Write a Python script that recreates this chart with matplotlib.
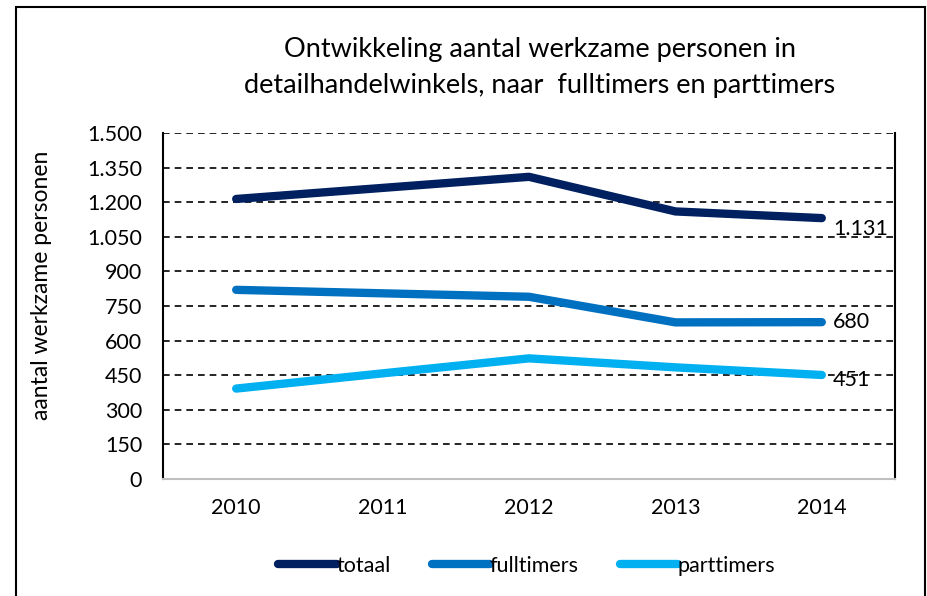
import matplotlib
matplotlib.use("Agg")
import matplotlib.pyplot as plt
from matplotlib.patches import Rectangle

plt.rcParams['font.family'] = ['Lato', 'DejaVu Sans']

years = ['2010', '2011', '2012', '2013', '2014']
totaal = [1214, 1262, 1310, 1160, 1131]
fulltimers = [820, 805, 790, 679, 680]
parttimers = [392, 458, 523, 484, 451]
end_labels = ['1.131', '680', '451']

yticks = list(range(0, 1501, 150))
ytick_labels = ['{:,}'.format(v).replace(',', '.') for v in yticks]

colors = ['#002060', '#0070C0', '#00B0F0']
names = ['totaal', 'fulltimers', 'parttimers']
label_dy = [-8, 0, -3.6]  # vertical offset of end labels, points

fig = plt.figure(figsize=(9.27, 5.96), dpi=100)
ax = fig.add_axes([163/927, 1 - 479/596, (895-163)/927, (479-133)/596])

# outer chart border
fig.patches.append(Rectangle((16/927, -0.01), (925-16)/927, 1 - 7/596 + 0.01,
                             transform=fig.transFigure, fill=False,
                             edgecolor='black', linewidth=1.5))

x = list(range(len(years)))
for series, c, n in zip([totaal, fulltimers, parttimers], colors, names):
    ax.plot(x, series, color=c, linewidth=6, solid_capstyle='round',
            solid_joinstyle='round', label=n, zorder=3)

for series, lab, dy in zip([totaal, fulltimers, parttimers], end_labels, label_dy):
    ax.annotate(lab, (x[-1], series[-1]), xytext=(8, dy), textcoords='offset points',
                ha='left', va='center', fontsize=15.5, zorder=4)

ax.set_xlim(-0.5, 4.5)
ax.set_ylim(0, 1500)
ax.set_xticks(x)
ax.set_xticklabels(years, fontsize=15.5)
ax.set_yticks(yticks)
ax.set_yticklabels(ytick_labels, fontsize=15.5)
ax.tick_params(axis='both', length=0)
ax.tick_params(axis='y', pad=15)
ax.tick_params(axis='x', pad=14)

for v in yticks[1:]:
    ax.axhline(v, color='black', linestyle=(0, (4, 3)), linewidth=1.2, zorder=1)

ax.spines['top'].set_visible(False)
ax.spines['left'].set_linewidth(1.5)
ax.spines['right'].set_linewidth(1.5)
ax.spines['bottom'].set_color('#BFBFBF')
ax.spines['bottom'].set_linewidth(1.5)

ax.set_ylabel('aantal werkzame personen', fontsize=16.5)
ax.yaxis.set_label_coords(-0.151, 0.56)

fig.text(540/927, 1 - 67/596,
         'Ontwikkeling aantal werkzame personen in\ndetailhandelwinkels, naar  fulltimers en parttimers',
         ha='center', va='center', fontsize=19.5, linespacing=1.55)

leg = ax.legend(loc='center', bbox_to_anchor=(527/927, 1 - 566/596),
                bbox_transform=fig.transFigure, ncol=3, frameon=False,
                fontsize=15.5, handlelength=2.7, handletextpad=0.0, columnspacing=1.9)

fig.savefig('out.png', dpi=100)
